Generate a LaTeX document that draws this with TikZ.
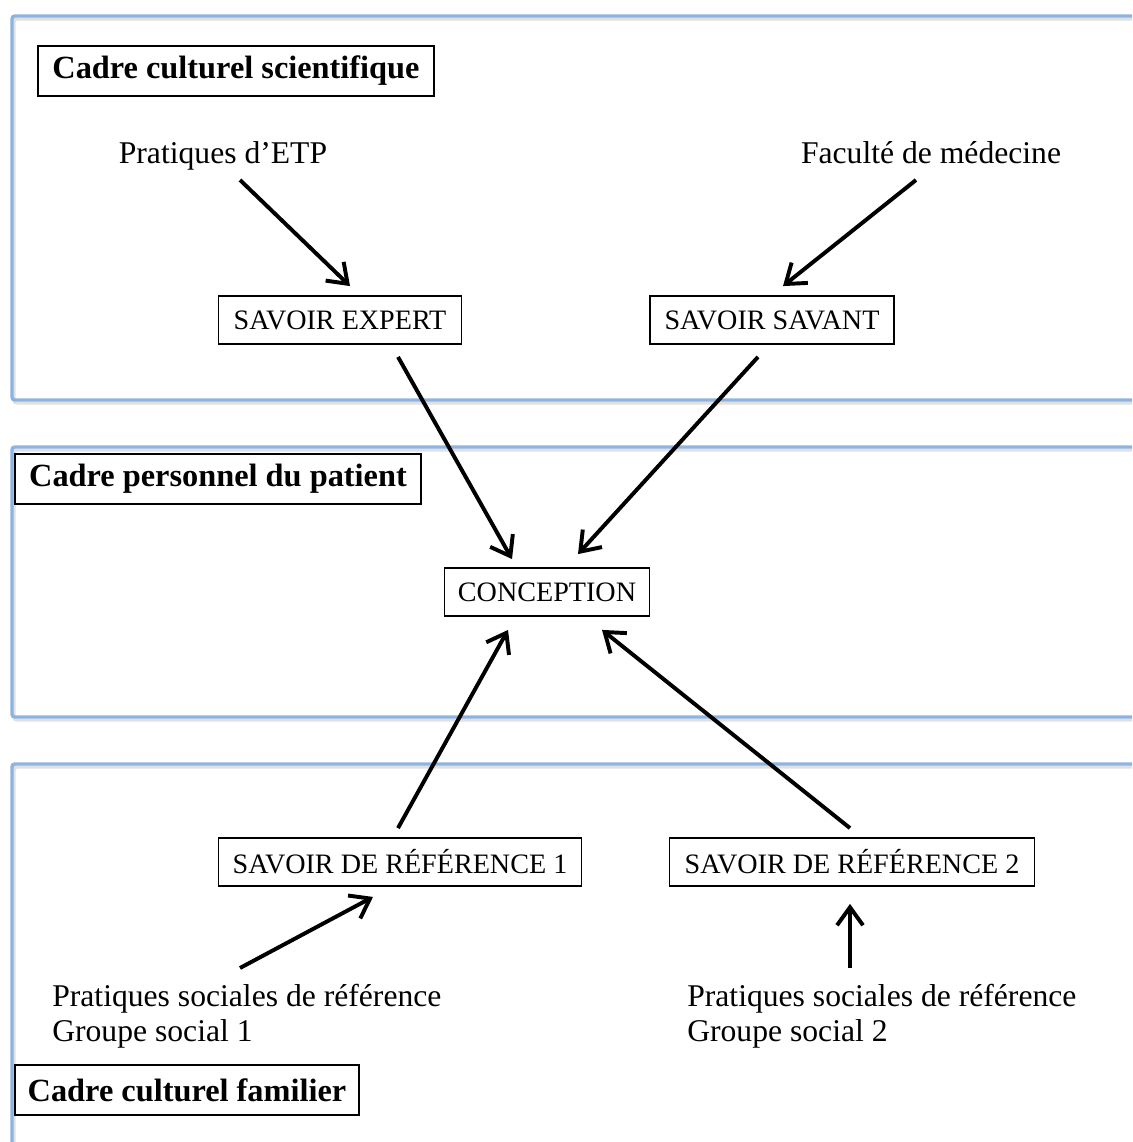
\documentclass[tikz,border=0pt]{standalone}
\usepackage{fontspec}
\setmainfont{Liberation Serif}
\usetikzlibrary{calc,arrows.meta}
\definecolor{frameblue}{RGB}{141,179,226}

\begin{document}
\begin{tikzpicture}
[x=0.025cm,y=-0.025cm,>={Straight Barb[length=4.5mm,width=6.5mm]},
cadre/.style={draw=frameblue,line width=2.4pt,rounded corners=2pt},
ombre/.style={draw=black!12,line width=2.4pt,rounded corners=2pt},
titre/.style={draw,line width=1.6pt,inner xsep=0.2cm,minimum height=1.25cm,font=\fontsize{23}{27}\selectfont\bfseries},
savoir/.style={draw,line width=1.3pt,inner xsep=0.15cm,minimum height=1.2cm,font=\fontsize{20}{24}\selectfont},
texte/.style={inner sep=0pt,align=left,font=\fontsize{22.5}{25}\selectfont},
fleche/.style={->,line width=2.8pt},]

\useasboundingbox (0,0) rectangle (1132,1142);
\clip (0,0) rectangle (1132,1142);

%Frames (open on the right)
\draw[ombre] (1150,19) -- (14,19) -- (14,403) -- (1150,403);
\draw[cadre] (1150,16) -- (12,16) -- (12,400) -- (1150,400);
\draw[ombre] (1150,450) -- (14,450) -- (14,720) -- (1150,720);
\draw[cadre] (1150,447) -- (12,447) -- (12,717) -- (1150,717);
\draw[ombre] (1150,767) -- (14,767) -- (14,1160);
\draw[cadre] (1150,764) -- (12,764) -- (12,1160);

%Frame titles
\node (scient) at (236,71)[titre,minimum width=9.9cm] {Cadre culturel scientifique};
\node (perso) at (218,479)[titre,minimum width=10.15cm] {Cadre personnel du patient};
\node (famil) at (187,1090)[titre,minimum width=8.6cm] {Cadre culturel familier};

%Knowledge boxes
\node (expert) at (340,320)[savoir,minimum width=6.07cm] {SAVOIR EXPERT};
\node (savant) at (772,320)[savoir,minimum width=6.1cm] {SAVOIR SAVANT};
\node (concept) at (547,592)[savoir,minimum width=5.12cm] {CONCEPTION};
\node (ref1) at (400,862)[savoir,minimum width=9.07cm] {SAVOIR DE RÉFÉRENCE 1};
\node (ref2) at (852,862)[savoir,minimum width=9.12cm] {SAVOIR DE RÉFÉRENCE 2};

%Sources
\node (etp) at (223,164)[texte,anchor=base] {Pratiques d’ETP};
\node (fac) at (931,164)[texte,anchor=base] {Faculté de médecine};
\node (psr1) at (52,1016)[texte,anchor=west] {Pratiques sociales de référence\\Groupe social 1};
\node (psr2) at (687,1016)[texte,anchor=west] {Pratiques sociales de référence\\Groupe social 2};

%Free ends of the arrows
\coordinate (etp-a) at (240,180);
\coordinate (fac-a) at (916,180);
\coordinate (psr1-a) at (240,968);
\coordinate (psr2-a) at (850,968);

%Arrows
\draw[fleche] (etp-a) -- ($(expert.north)+(10,-9)$);
\draw[fleche] (fac-a) -- ($(savant.north)+(11,-9)$);
\draw[fleche] ($(expert.south)+(58,12)$) -- ($(concept.north)+(-35,-8)$);
\draw[fleche] ($(savant.south)+(-14,12)$) -- ($(concept.north)+(31,-13)$);
\draw[fleche] ($(ref1.north)+(-2,-9)$) -- ($(concept.south)+(-39,13)$);
\draw[fleche] ($(ref2.north)+(-2,-9)$) -- ($(concept.south)+(55,13)$);
\draw[fleche] (psr1-a) -- ($(ref1.south)+(-27,10)$);
\draw[fleche] (psr2-a) -- ($(ref2.south)+(-2,17)$);

\end{tikzpicture}
\end{document}
